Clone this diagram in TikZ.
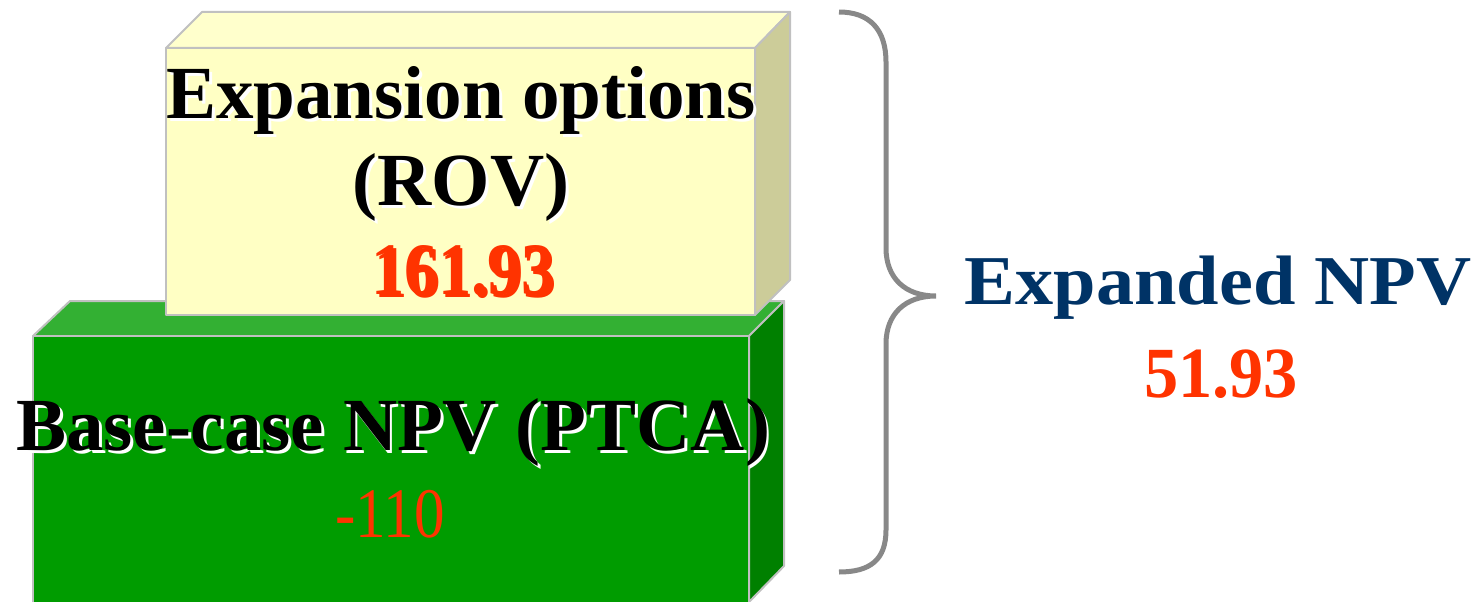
\documentclass[tikz,border=0pt]{standalone}
\usepackage{fontspec}
\setmainfont{Liberation Serif}
\usepackage{graphicx}
\definecolor{yfront}{HTML}{FFFFC4}
\definecolor{ytop}{HTML}{FFFFCC}
\definecolor{yside}{HTML}{CCCC99}
\definecolor{gfront}{HTML}{009C00}
\definecolor{gtop}{HTML}{33B033}
\definecolor{gside}{HTML}{008000}
\definecolor{edgegray}{HTML}{C0C0C0}
\definecolor{numred}{HTML}{FF3300}
\definecolor{navy}{HTML}{003366}
\definecolor{bracegray}{HTML}{888888}
\newcommand{\shtxt}[2]{\leavevmode\rlap{\kern3pt\raisebox{-3pt}{\textcolor{#1}{#2}}}#2}
\tikzset{
  face/.style={draw=edgegray, line width=2pt, line join=round},
  lbl/.style={anchor=base, inner sep=0pt, font=\bfseries\fontsize{75}{87}\selectfont},
  numlbl/.style={anchor=base, inner sep=0pt, text=numred},
}
\begin{document}
\begin{tikzpicture}[x=1pt,y=-1pt]
\useasboundingbox (0,0) rectangle (1478,602);
\clip (0,0) rectangle (1478,602);
% green box
\fill[face, fill=gtop] (33,336) -- (70,301) -- (784,301) -- (749,336) -- cycle;
\fill[face, fill=gside] (749,336) -- (784,301) -- (784,566) -- (749,602) -- cycle;
\fill[face, fill=gfront] (33,336) rectangle (749,610);
% yellow box
\fill[face, fill=ytop] (166,48) -- (202,12) -- (790,12) -- (755,48) -- cycle;
\fill[face, fill=yside] (755,48) -- (790,12) -- (790,280) -- (755,315) -- cycle;
\fill[face, fill=yfront] (166,48) rectangle (755,315);
% texts in yellow box
\node[lbl] (exp) at (461,118) {\shtxt{white}{Expansion options}};
\node[lbl] (rov) at (461,205) {\shtxt{white}{(ROV)}};
\node[numlbl, font=\bfseries\fontsize{74}{87}\selectfont] (rovv) at (463,294) {\scalebox{0.9}[1]{\shtxt{black}{\textcolor{numred}{161.93}}}};
% texts in green box
\node[lbl] (base) at (393,450) {\shtxt{white}{Base-case NPV (PTCA)}};
\node[numlbl, font=\fontsize{71}{87}\selectfont] (basev) at (390,537) {\scalebox{0.86}[1]{-110}};
% brace
\draw[bracegray, line width=5pt, line cap=butt] (839,12) .. controls (870,12) and (886,30) .. (886,62) -- (886,248) .. controls (886,278) and (905,296) .. (936,296) coordinate (tip) .. controls (905,296) and (886,314) .. (886,344) -- (886,530) .. controls (886,560) and (870,572) .. (839,572);
% result
\node[anchor=base, inner sep=0pt, text=navy, font=\bfseries\fontsize{70}{87}\selectfont] (xnpv) at (1218,304) {\scalebox{1.09}[1]{Expanded NPV}};
\node[numlbl, font=\bfseries\fontsize{72}{87}\selectfont] (xnpvv) at (1221,397) {\scalebox{0.95}[1]{51.93}};
\end{tikzpicture}
\end{document}
